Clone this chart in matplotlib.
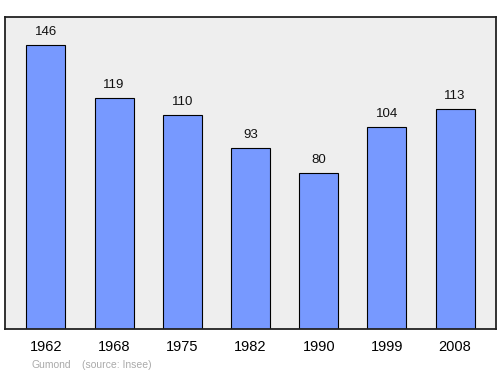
import matplotlib
matplotlib.use("Agg")
import matplotlib.pyplot as plt

years = ["1962", "1968", "1975", "1982", "1990", "1999", "2008"]
population = [146, 119, 110, 93, 80, 104, 113]

plt.rcParams['font.family'] = ['Liberation Sans', 'DejaVu Sans']

fig = plt.figure(figsize=(5.0, 3.74), dpi=100)
ax = fig.add_axes([5/500, 1-329/374, 491/500, 312/374])
ax.set_facecolor('#eeeeee')
x = list(range(len(years)))
ax.bar(x, population, width=0.57, color='#7799ff', edgecolor='black', linewidth=0.8, zorder=2)
for xi, v in zip(x, population):
    ax.annotate(str(v), (xi, v), xytext=(0, 5), textcoords='offset points',
                ha='center', va='bottom', fontsize=9.5, color='#111111')
ax.set_xlim(-0.6, 6.6)
ax.set_ylim(0, 160.4)
ax.set_yticks([])
ax.set_xticks(x)
ax.set_xticklabels(years, fontsize=10.5)
ax.tick_params(axis='x', length=0, pad=8)
for s in ax.spines.values():
    s.set_linewidth(1.3)
    s.set_color('#222222')
fig.text(32/500, 1-365/374, "Gumond", fontsize=7.5, color='#aaaaaa', va='center')
fig.text(82/500, 1-365/374, "(source: Insee)", fontsize=7.5, color='#aaaaaa', va='center')
fig.savefig("out.png", dpi=100)
